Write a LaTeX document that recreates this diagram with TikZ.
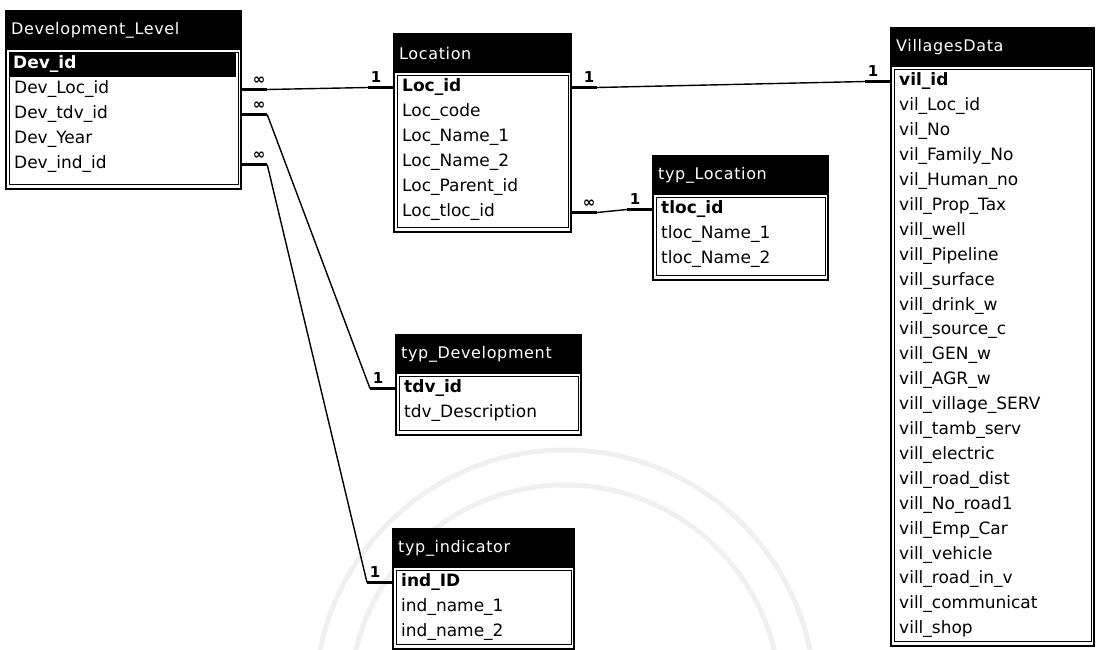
\documentclass[tikz,border=0pt]{standalone}
\usepackage{fontspec}
\newfontfamily\tblfont{DejaVu Sans}
\newfontfamily\ttlfont[LetterSpace=4]{DejaVu Sans}
\usetikzlibrary{positioning}

\begin{document}
\begin{tikzpicture}[x=1pt, y=-1pt,
  frame/.style={draw=black, line width=2.2pt, fill=white, anchor=north west, inner sep=0pt},
  ttl/.style={fill=black, text=white!85, anchor=north west, inner xsep=6pt, inner ysep=0pt, minimum height=40, align=left, font=\ttlfont\fontsize{16}{18}\selectfont},
  fld/.style={anchor=west, inner sep=0pt, font=\tblfont\fontsize{17}{19}\selectfont},
  key/.style={fld, font=\tblfont\bfseries\fontsize{17}{19}\selectfont},
  inbox/.style={draw=black, line width=0.8pt},
  card/.style={inner sep=0.5pt, font=\tblfont\bfseries\fontsize{15}{16}\selectfont},
  stub/.style={line width=2.8pt},
  rel/.style={line width=1.4pt}]
\useasboundingbox (0,0) rectangle (1103,650);
% faint watermark behind the tables
\draw[black!6, line width=5pt] (315,700) arc[start angle=180, end angle=360, radius=250];
\draw[black!6, line width=5pt] (350,700) arc[start angle=180, end angle=360, radius=215];
% Development_Level
\node[frame, minimum width=235, minimum height=178] (dev) at (5,10) {};
\node[ttl, text width=223] (devT) at (dev.north west) {Development\_Level};
\draw[inbox] ([shift={(4,42)}]dev.north west) rectangle ([shift={(-4,-6)}]dev.south east);
\node[key, fill=black, text=white, minimum height=25, inner xsep=4pt, text width=219, align=left] (d0) at (9,64.5) {Dev\_id};
\foreach \t [count=\i] in {Dev\_Loc\_id, Dev\_tdv\_id, Dev\_Year, Dev\_ind\_id}
  \node[fld] (d\i) at (14,{64.5+25*\i}) {\t};
% Location
\node[frame, minimum width=177, minimum height=198] (loc) at (393,33) {};
\node[ttl, text width=165] (locT) at (loc.north west) {Location};
\draw[inbox] ([shift={(4,42)}]loc.north west) rectangle ([shift={(-4,-6)}]loc.south east);
\node[key] (l1) at (402,87.5) {Loc\_id};
\foreach \t [count=\i from 2] in {Loc\_code, Loc\_Name\_1, Loc\_Name\_2, Loc\_Parent\_id, Loc\_tloc\_id}
  \node[fld] (l\i) at (402,{87.5+25*(\i-1)}) {\t};
% typ_Location
\node[frame, minimum width=175, minimum height=124] (tl) at (652,155) {};
\node[ttl, text width=163] (tlT) at (tl.north west) {typ\_Location};
\draw[inbox] ([shift={(4,42)}]tl.north west) rectangle ([shift={(-4,-6)}]tl.south east);
\node[key] (t1) at (661,209.5) {tloc\_id};
\foreach \t [count=\i from 2] in {tloc\_Name\_1, tloc\_Name\_2}
  \node[fld] (t\i) at (661,{209.5+25*(\i-1)}) {\t};
% typ_Development
\node[frame, minimum width=185, minimum height=100] (tdv) at (395,334) {};
\node[ttl, text width=173] (tdvT) at (tdv.north west) {typ\_Development};
\draw[inbox] ([shift={(4,42)}]tdv.north west) rectangle ([shift={(-4,-6)}]tdv.south east);
\node[key] (td1) at (404,388.5) {tdv\_id};
\node[fld] (td2) at (404,413.5) {tdv\_Description};
% typ_indicator
\node[frame, minimum width=181, minimum height=120] (ind) at (392,528) {};
\node[ttl, text width=169] (indT) at (ind.north west) {typ\_indicator};
\draw[inbox] ([shift={(4,42)}]ind.north west) rectangle ([shift={(-4,-6)}]ind.south east);
\node[key] (i1) at (401,582.5) {ind\_ID};
\foreach \t [count=\i from 2] in {ind\_name\_1, ind\_name\_2}
  \node[fld] (i\i) at (401,{582.5+25*(\i-1)}) {\t};
% VillagesData
\node[frame, minimum width=203, minimum height=618] (vil) at (890,27) {};
\node[ttl, text width=191] (vilT) at (vil.north west) {VillagesData};
\draw[inbox] ([shift={(4,42)}]vil.north west) rectangle ([shift={(-4,-6)}]vil.south east);
\node[key] (v1) at (899,81.5) {vil\_id};
\foreach \t [count=\i from 2] in {vil\_Loc\_id, vil\_No, vil\_Family\_No, vil\_Human\_no, vill\_Prop\_Tax, vill\_well, vill\_Pipeline, vill\_surface, vill\_drink\_w, vill\_source\_c, vill\_GEN\_w, vill\_AGR\_w, vill\_village\_SERV, vill\_tamb\_serv, vill\_electric, vill\_road\_dist, vill\_No\_road1, vill\_Emp\_Car, vill\_vehicle, vill\_road\_in\_v, vill\_communicat, vill\_shop}
  \node[fld] (v\i) at (899,{81.5+24.9*(\i-1)}) {\t};
% relationships
\foreach \ta/\fa/\ca/\tb/\fb/\cb [count=\k] in {dev/d1/∞/loc/l1/1, dev/d2/∞/tdv/td1/1, dev/d4/∞/ind/i1/1, loc/l1/1/vil/v1/1, loc/l6/∞/tl/t1/1}{
  \draw[stub] (\ta.east |- \fa) -- ++(25,0) coordinate (s\k) node[card, above=3pt, xshift=-8pt] (ms\k) {\ca};
  \draw[stub] (\tb.west |- \fb) -- ++(-25,0) coordinate (e\k) node[card, above=3pt, xshift=8pt] (me\k) {\cb};
  \draw[rel] (s\k) -- (e\k);
}
\end{tikzpicture}
\end{document}
